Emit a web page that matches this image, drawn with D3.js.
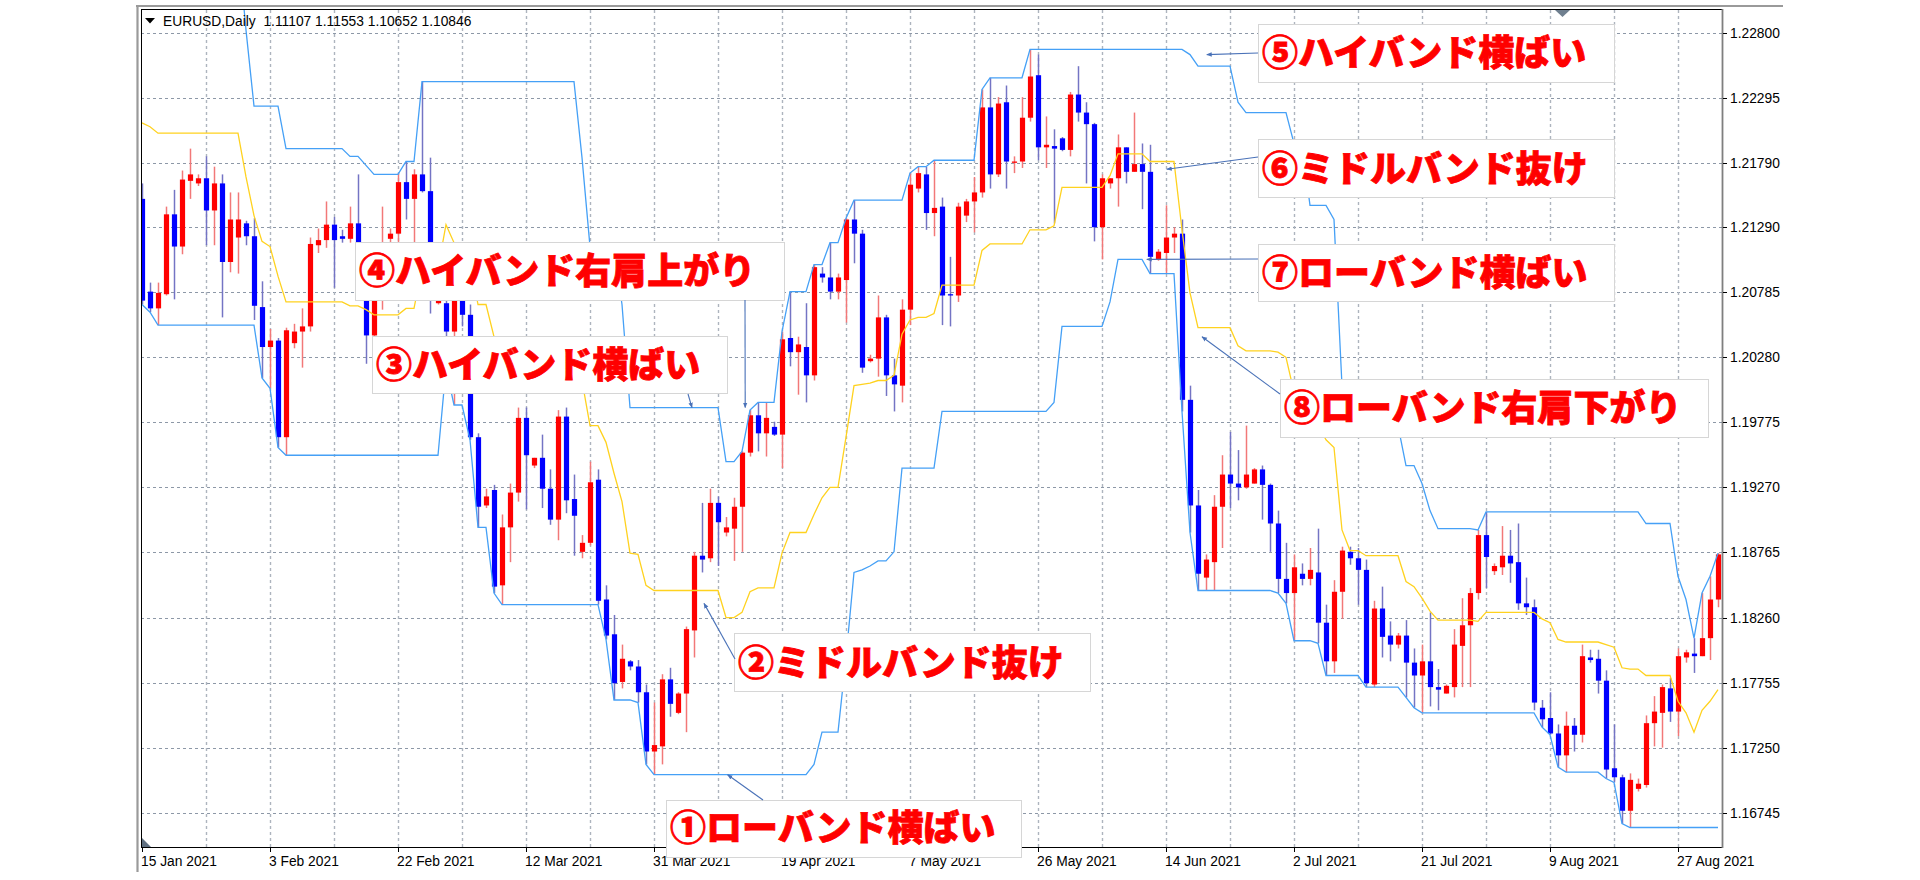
<!DOCTYPE html>
<html><head><meta charset="utf-8">
<script src="https://cdn.jsdelivr.net/npm/d3@7"></script>
<style>html,body{margin:0;padding:0;background:#fff;overflow:hidden}</style>
</head><body>
<svg id="c" width="1920" height="880"></svg>
<script>
// ---------------- DATA ----------------
const opens = [
1.2151,1.2079,1.2066,1.2077,1.2139,1.2114,1.2165,1.2163,1.2167,1.2142,
1.2163,1.2102,1.2121,1.2132,1.2122,1.2067,1.2036,1.2041,1.1966,1.2039,
1.2048,1.2052,1.2115,1.2119,1.2131,1.2122,1.2120,1.2132,1.2110,1.2045,
1.2073,1.2120,1.2124,1.2164,1.2151,1.2170,1.2157,1.2070,1.2070,1.2048,
1.2088,1.2061,1.1966,1.1913,1.1925,1.1851,1.1896,1.1923,1.1981,1.1944,
1.1950,1.1926,1.1902,1.1982,1.1918,1.1877,1.1884,1.1933,1.1840,1.1813,
1.1776,1.1792,1.1788,1.1768,1.1722,1.1726,1.1778,1.1752,1.1767,1.1816,
1.1874,1.1872,1.1915,1.1892,1.1895,1.1912,1.1954,1.1983,1.1969,1.1974,
1.1968,1.2043,1.2032,1.2036,1.2014,1.2093,1.2090,1.2079,1.2088,1.2135,
1.2124,1.2025,1.2027,1.2059,1.2014,1.2006,1.2065,1.2159,1.2170,1.2140,
1.2145,1.2077,1.2076,1.2138,1.2149,1.2156,1.2222,1.2170,1.2226,1.2179,
1.2180,1.2214,1.2247,1.2191,1.2192,1.2198,1.2189,1.2232,1.2218,1.2209,
1.2129,1.2163,1.2167,1.2191,1.2172,1.2178,1.2172,1.2104,1.2109,1.2121,
1.2124,1.1995,1.1913,1.1857,1.1869,1.1912,1.1937,1.1930,1.1927,1.1930,
1.1941,1.1929,1.1899,1.1856,1.1845,1.1860,1.1856,1.1861,1.1822,1.1792,
1.1846,1.1877,1.1872,1.1863,1.1774,1.1833,1.1812,1.1805,1.1812,1.1791,
1.1781,1.1792,1.1772,1.1767,1.1772,1.1804,1.1820,1.1845,1.1890,1.1862,
1.1865,1.1874,1.1869,1.1837,1.1834,1.1756,1.1748,1.1736,1.1719,1.1742,
1.1735,1.1795,1.1794,1.1777,1.1709,1.1702,1.1676,1.1693,1.1696,1.1744,
1.1752,1.1771,1.1753,1.1795,1.1798,1.1796,1.1810,1.1840];
const highs = [
1.2163,1.2086,1.2086,1.2145,1.2158,1.2173,1.2190,1.2170,1.2184,1.2176,
1.2170,1.2156,1.2156,1.2134,1.2136,1.2087,1.2050,1.2043,1.2051,1.2054,
1.2066,1.2121,1.2128,1.2149,1.2137,1.2127,1.2145,1.2170,1.2113,1.2084,
1.2145,1.2128,1.2171,1.2180,1.2174,1.2242,1.2183,1.2074,1.2114,1.2113,
1.2113,1.2069,1.1969,1.1926,1.1929,1.1906,1.1930,1.1989,1.1989,1.1950,
1.1968,1.1941,1.1987,1.1989,1.1937,1.1890,1.1947,1.1941,1.1851,1.1828,
1.1805,1.1793,1.1793,1.1774,1.1760,1.1782,1.1787,1.1768,1.1819,1.1877,
1.1915,1.1926,1.1920,1.1904,1.1919,1.1955,1.1987,1.1993,1.1993,1.1978,
1.2048,1.2079,1.2044,1.2070,1.2100,1.2098,1.2117,1.2093,1.2136,1.2150,
1.2127,1.2030,1.2076,1.2061,1.2027,1.2073,1.2171,1.2176,1.2176,1.2181,
1.2152,1.2106,1.2148,1.2151,1.2168,1.2236,1.2245,1.2230,1.2239,1.2184,
1.2230,1.2267,1.2263,1.2215,1.2205,1.2199,1.2234,1.2254,1.2226,1.2210,
1.2170,1.2167,1.2201,1.2191,1.2218,1.2194,1.2193,1.2112,1.2146,1.2129,
1.2135,1.2006,1.1925,1.1875,1.1921,1.1952,1.1970,1.1956,1.1975,1.1942,
1.1944,1.1930,1.1909,1.1884,1.1875,1.1868,1.1880,1.1895,1.1836,1.1855,
1.1881,1.1881,1.1880,1.1871,1.1839,1.1850,1.1823,1.1814,1.1824,1.1802,
1.1805,1.1830,1.1786,1.1774,1.1817,1.1841,1.1849,1.1894,1.1908,1.1868,
1.1897,1.1894,1.1899,1.1857,1.1840,1.1762,1.1768,1.1743,1.1753,1.1748,
1.1805,1.1801,1.1801,1.1785,1.1743,1.1704,1.1705,1.1701,1.1750,1.1765,
1.1774,1.1779,1.1802,1.1801,1.1810,1.1845,1.1858,1.1876];
const lows = [
1.2069,1.2063,1.2053,1.2076,1.2073,1.2108,1.2151,1.2161,1.2115,1.2115,
1.2059,1.2094,1.2093,1.2115,1.2057,1.2012,1.2004,1.1958,1.1952,1.2035,
1.2020,1.2048,1.2109,1.2113,1.2082,1.2117,1.2117,1.2102,1.2023,1.2038,
1.2065,1.2111,1.2115,1.2135,1.2115,1.2156,1.2062,1.2069,1.2038,1.1991,
1.2052,1.1964,1.1896,1.1911,1.1845,1.1836,1.1869,1.1916,1.1910,1.1942,
1.1911,1.1898,1.1886,1.1907,1.1874,1.1872,1.1882,1.1836,1.1809,1.1762,
1.1771,1.1785,1.1760,1.1712,1.1704,1.1712,1.1749,1.1751,1.1737,1.1795,
1.1861,1.1869,1.1866,1.1889,1.1870,1.1877,1.1951,1.1955,1.1951,1.1967,
1.1942,1.2021,1.1999,1.1993,1.2010,1.2086,1.2073,1.2073,1.2055,1.2101,
1.2016,1.2024,1.2013,1.1998,1.1986,1.1993,1.2053,1.2156,1.2127,1.2122,
1.2053,1.2052,1.2071,1.2133,1.2125,1.2152,1.2159,1.2168,1.2159,1.2171,
1.2175,1.2211,1.2181,1.2175,1.2132,1.2188,1.2184,1.2211,1.2163,1.2118,
1.2104,1.2159,1.2145,1.2163,1.2172,1.2143,1.2093,1.2103,1.2093,1.2109,
1.1986,1.1892,1.1847,1.1847,1.1847,1.1880,1.1911,1.1917,1.1926,1.1930,
1.1902,1.1877,1.1845,1.1837,1.1808,1.1851,1.1851,1.1806,1.1781,1.1783,
1.1825,1.1867,1.1836,1.1772,1.1772,1.1795,1.1792,1.1802,1.1764,1.1756,
1.1752,1.1757,1.1754,1.1767,1.1764,1.1772,1.1772,1.1840,1.1849,1.1859,
1.1859,1.1853,1.1832,1.1828,1.1754,1.1741,1.1735,1.1710,1.1706,1.1722,
1.1729,1.1791,1.1767,1.1701,1.1698,1.1666,1.1663,1.1691,1.1694,1.1726,
1.1725,1.1745,1.1734,1.1791,1.1783,1.1796,1.1793,1.1834];
const closes = [
1.2072,1.2066,1.2078,1.2139,1.2114,1.2166,1.2170,1.2167,1.2142,1.2163,
1.2102,1.2135,1.2135,1.2122,1.2068,1.2036,1.2041,1.1966,1.2049,1.2048,
1.2052,1.2116,1.2119,1.2131,1.2119,1.2120,1.2132,1.2110,1.2045,1.2079,
1.2115,1.2124,1.2164,1.2151,1.2170,1.2157,1.2080,1.2073,1.2048,1.2088,
1.2061,1.1966,1.1912,1.1920,1.1850,1.1896,1.1923,1.1981,1.1952,1.1950,
1.1926,1.1902,1.1982,1.1917,1.1905,1.1884,1.1931,1.1839,1.1812,1.1775,
1.1794,1.1788,1.1768,1.1722,1.1727,1.1778,1.1759,1.1767,1.1817,1.1874,
1.1871,1.1915,1.1900,1.1896,1.1912,1.1954,1.1983,1.1969,1.1981,1.1968,
1.2042,1.2032,1.2038,1.2014,1.2098,1.2090,1.2079,1.2090,1.2135,1.2124,
1.2020,1.2027,1.2059,1.2014,1.2007,1.2065,1.2162,1.2171,1.2140,1.2144,
1.2076,1.2076,1.2145,1.2149,1.2156,1.2222,1.2170,1.2225,1.2180,1.2180,
1.2214,1.2246,1.2191,1.2193,1.2190,1.2189,1.2232,1.2218,1.2209,1.2129,
1.2167,1.2167,1.2191,1.2172,1.2178,1.2172,1.2106,1.2110,1.2121,1.2124,
1.1995,1.1913,1.1860,1.1871,1.1912,1.1937,1.1930,1.1927,1.1937,1.1941,
1.1929,1.1899,1.1856,1.1845,1.1865,1.1856,1.1863,1.1822,1.1792,1.1846,
1.1878,1.1872,1.1863,1.1775,1.1833,1.1811,1.1805,1.1812,1.1791,1.1781,
1.1792,1.1772,1.1770,1.1773,1.1805,1.1820,1.1845,1.1890,1.1873,1.1866,
1.1874,1.1868,1.1837,1.1834,1.1760,1.1747,1.1736,1.1719,1.1742,1.1735,
1.1796,1.1793,1.1777,1.1708,1.1702,1.1676,1.1700,1.1697,1.1744,1.1753,
1.1772,1.1753,1.1796,1.1799,1.1796,1.1810,1.1840,1.1875];
const hiBand = [
1.2350,1.2350,1.2350,1.2350,1.2350,1.2350,1.2350,1.2350,1.2350,1.2350,
1.2350,1.2350,1.2350,1.2282,1.2223,1.2223,1.2223,1.2223,1.2190,1.2190,
1.2190,1.2190,1.2190,1.2190,1.2190,1.2190,1.2184,1.2184,1.2177,1.2170,
1.2170,1.2170,1.2170,1.2180,1.2180,1.2242,1.2242,1.2242,1.2242,1.2242,
1.2242,1.2242,1.2242,1.2242,1.2242,1.2242,1.2242,1.2242,1.2242,1.2242,
1.2242,1.2242,1.2242,1.2242,1.2242,1.2183,1.2114,1.2114,1.2114,1.2113,
1.2069,1.1989,1.1989,1.1989,1.1989,1.1989,1.1989,1.1989,1.1989,1.1989,
1.1989,1.1989,1.1989,1.1947,1.1947,1.1955,1.1987,1.1993,1.1993,1.1993,
1.2048,1.2079,1.2079,1.2079,1.2100,1.2100,1.2117,1.2117,1.2136,1.2150,
1.2150,1.2150,1.2150,1.2150,1.2150,1.2150,1.2171,1.2176,1.2176,1.2181,
1.2181,1.2181,1.2181,1.2181,1.2181,1.2236,1.2245,1.2245,1.2245,1.2245,
1.2245,1.2267,1.2267,1.2267,1.2267,1.2267,1.2267,1.2267,1.2267,1.2267,
1.2267,1.2267,1.2267,1.2267,1.2267,1.2267,1.2267,1.2267,1.2267,1.2267,
1.2267,1.2263,1.2254,1.2254,1.2254,1.2254,1.2254,1.2226,1.2218,1.2218,
1.2218,1.2218,1.2218,1.2218,1.2194,1.2193,1.2146,1.2146,1.2146,1.2135,
1.2006,1.1975,1.1975,1.1975,1.1975,1.1975,1.1975,1.1975,1.1944,1.1944,
1.1930,1.1909,1.1895,1.1895,1.1895,1.1895,1.1895,1.1894,1.1908,1.1908,
1.1908,1.1908,1.1908,1.1908,1.1908,1.1908,1.1908,1.1908,1.1908,1.1908,
1.1908,1.1908,1.1908,1.1908,1.1908,1.1908,1.1908,1.1908,1.1899,1.1899,
1.1899,1.1899,1.1858,1.1840,1.1810,1.1845,1.1858,1.1876];
const midBand = [
1.2210,1.2207,1.2202,1.2202,1.2202,1.2202,1.2202,1.2202,1.2202,1.2202,
1.2202,1.2202,1.2202,1.2168,1.2138,1.2118,1.2114,1.2091,1.2071,1.2071,
1.2071,1.2071,1.2071,1.2071,1.2071,1.2071,1.2068,1.2068,1.2065,1.2061,
1.2061,1.2061,1.2061,1.2066,1.2066,1.2097,1.2097,1.2097,1.2131,1.2117,
1.2117,1.2103,1.2069,1.2069,1.2044,1.2039,1.2039,1.2039,1.2039,1.2039,
1.2039,1.2039,1.2039,1.2039,1.2039,1.2010,1.1975,1.1975,1.1962,1.1938,
1.1916,1.1876,1.1875,1.1851,1.1847,1.1847,1.1847,1.1847,1.1847,1.1847,
1.1847,1.1847,1.1847,1.1826,1.1826,1.1830,1.1846,1.1849,1.1849,1.1849,
1.1876,1.1892,1.1892,1.1892,1.1906,1.1919,1.1927,1.1927,1.1966,1.2006,
1.2007,1.2008,1.2010,1.2010,1.2014,1.2046,1.2057,1.2059,1.2059,1.2062,
1.2084,1.2084,1.2084,1.2084,1.2084,1.2111,1.2116,1.2116,1.2116,1.2116,
1.2116,1.2127,1.2127,1.2127,1.2130,1.2160,1.2160,1.2160,1.2160,1.2160,
1.2160,1.2169,1.2186,1.2186,1.2186,1.2186,1.2180,1.2180,1.2180,1.2180,
1.2127,1.2078,1.2051,1.2051,1.2051,1.2051,1.2051,1.2037,1.2033,1.2033,
1.2033,1.2033,1.2032,1.2028,1.2001,1.2001,1.1977,1.1976,1.1964,1.1958,
1.1894,1.1878,1.1878,1.1874,1.1874,1.1874,1.1874,1.1874,1.1854,1.1850,
1.1841,1.1831,1.1824,1.1824,1.1824,1.1824,1.1824,1.1823,1.1830,1.1830,
1.1830,1.1830,1.1830,1.1830,1.1830,1.1825,1.1822,1.1809,1.1807,1.1807,
1.1807,1.1807,1.1807,1.1805,1.1803,1.1787,1.1786,1.1786,1.1781,1.1781,
1.1781,1.1781,1.1761,1.1752,1.1737,1.1754,1.1761,1.1770];
const loBand = [
1.2069,1.2063,1.2053,1.2053,1.2053,1.2053,1.2053,1.2053,1.2053,1.2053,
1.2053,1.2053,1.2053,1.2053,1.2053,1.2012,1.2004,1.1958,1.1952,1.1952,
1.1952,1.1952,1.1952,1.1952,1.1952,1.1952,1.1952,1.1952,1.1952,1.1952,
1.1952,1.1952,1.1952,1.1952,1.1952,1.1952,1.1952,1.1952,1.2020,1.1991,
1.1991,1.1964,1.1896,1.1896,1.1845,1.1836,1.1836,1.1836,1.1836,1.1836,
1.1836,1.1836,1.1836,1.1836,1.1836,1.1836,1.1836,1.1836,1.1809,1.1762,
1.1762,1.1762,1.1760,1.1712,1.1704,1.1704,1.1704,1.1704,1.1704,1.1704,
1.1704,1.1704,1.1704,1.1704,1.1704,1.1704,1.1704,1.1704,1.1704,1.1704,
1.1704,1.1704,1.1704,1.1704,1.1712,1.1737,1.1737,1.1737,1.1795,1.1861,
1.1863,1.1866,1.1870,1.1870,1.1877,1.1942,1.1942,1.1942,1.1942,1.1942,
1.1986,1.1986,1.1986,1.1986,1.1986,1.1986,1.1986,1.1986,1.1986,1.1986,
1.1986,1.1986,1.1986,1.1986,1.1993,1.2052,1.2052,1.2052,1.2052,1.2052,
1.2052,1.2071,1.2104,1.2104,1.2104,1.2104,1.2093,1.2093,1.2093,1.2093,
1.1986,1.1892,1.1847,1.1847,1.1847,1.1847,1.1847,1.1847,1.1847,1.1847,
1.1847,1.1847,1.1845,1.1837,1.1808,1.1808,1.1808,1.1806,1.1781,1.1781,
1.1781,1.1781,1.1781,1.1772,1.1772,1.1772,1.1772,1.1772,1.1764,1.1756,
1.1752,1.1752,1.1752,1.1752,1.1752,1.1752,1.1752,1.1752,1.1752,1.1752,
1.1752,1.1752,1.1752,1.1752,1.1752,1.1741,1.1735,1.1710,1.1706,1.1706,
1.1706,1.1706,1.1706,1.1701,1.1698,1.1666,1.1663,1.1663,1.1663,1.1663,
1.1663,1.1663,1.1663,1.1663,1.1663,1.1663,1.1663,1.1663];
const yTicks = [1.22800,1.22295,1.21790,1.21290,1.20785,1.20280,1.19775,1.19270,1.18765,1.18260,1.17755,1.17250,1.16745];
const xLabels = ["15 Jan 2021","3 Feb 2021","22 Feb 2021","12 Mar 2021","31 Mar 2021","19 Apr 2021","7 May 2021","26 May 2021","14 Jun 2021","2 Jul 2021","21 Jul 2021","9 Aug 2021","27 Aug 2021"];
const xLabelBars = [0,16,32,48,64,80,96,112,128,144,160,176,192];
const headerText = "EURUSD,Daily  1.11107 1.11553 1.10652 1.10846";
const noteTexts = ["①ローバンド横ばい","②ミドルバンド抜け","③ハイバンド横ばい","④ハイバンド右肩上がり","⑤ハイバンド横ばい","⑥ミドルバンド抜け","⑦ローバンド横ばい","⑧ローバンド右肩下がり"];
// arrow targets in data space: [bar index, price]
const noteTargets = [[73.2,1.1704],[70.25,1.1837],[68.75,1.1989],[75.4,1.1989],[133.1,1.2263],[128.1,1.2174],[125.6,1.2104],[132.5,1.2044]];

// ---------------- LAYOUT ----------------
const P = {l:141, r:1722, t:10, b:847};
const noteLayout = [ // box x,y,w,h ; text center y ; arrow start
  {x:666,y:800,w:355,h:57,ty:825,ax:763,ay:800},
  {x:734,y:633,w:356,h:58,ty:660,ax:735,ay:659},
  {x:372,y:336,w:355,h:57,ty:362,ax:688,ay:394},
  {x:355,y:242,w:429,h:58,ty:268,ax:745,ay:300},
  {x:1258,y:24,w:356,h:58,ty:50,ax:1258,ay:53},
  {x:1258,y:139,w:356,h:58,ty:166,ax:1258,ay:157},
  {x:1258,y:244,w:356,h:57,ty:270,ax:1258,ay:259},
  {x:1280,y:379,w:428,h:58,ty:405,ax:1280,ay:394}
];

const svg = d3.select("#c");
const x = d3.scaleLinear().domain([0,197]).range([142,1718]);
const y = d3.scaleLinear().domain([1.16745,1.22800]).range([812.7,32.7]);

svg.append("rect").attr("width",1920).attr("height",880).attr("fill","#fff");
const defs = svg.append("defs");
defs.append("clipPath").attr("id","clip").append("rect")
  .attr("x",P.l).attr("y",P.t).attr("width",P.r-P.l).attr("height",P.b-P.t);
defs.append("marker").attr("id","ah").attr("viewBox","0 0 10 10").attr("refX",9).attr("refY",5)
  .attr("markerWidth",5).attr("markerHeight",5).attr("orient","auto")
  .append("path").attr("d","M0,1 L10,5 L0,9 z").attr("fill","#4a72b8");

// outer window frame (gray)
svg.append("line").attr("x1",136).attr("x2",1783).attr("y1",6).attr("y2",6).attr("stroke","#9a9a9a").attr("stroke-width",2);
svg.append("line").attr("x1",137.5).attr("x2",137.5).attr("y1",5).attr("y2",872).attr("stroke","#9a9a9a").attr("stroke-width",2.2);

// grid
const grid = svg.append("g");
yTicks.forEach(v=>{
  grid.append("line").attr("x1",P.l).attr("x2",P.r).attr("y1",Math.round(y(v))+0.5).attr("y2",Math.round(y(v))+0.5)
    .attr("stroke","#8d98a7").attr("stroke-width",1).attr("stroke-dasharray","3,3");
});
const vGrid = d3.range(8,198,8);
vGrid.forEach(b=>{
  grid.append("line").attr("x1",x(b)+0.5).attr("x2",x(b)+0.5).attr("y1",P.t).attr("y2",P.b)
    .attr("stroke","#adb4be").attr("stroke-width",1.4).attr("stroke-dasharray","3,3");
});

// candles
const gC = svg.append("g").attr("clip-path","url(#clip)");
const idx = d3.range(opens.length);
idx.forEach(i=>{
  const up = closes[i] >= opens[i];
  const cx = x(i)+0.5;
  gC.append("line").attr("x1",cx).attr("x2",cx).attr("y1",y(highs[i])).attr("y2",y(lows[i]))
    .attr("stroke", up ? "#f27878" : "#7474c4").attr("stroke-width",1.5);
  const y1 = y(Math.max(opens[i],closes[i])), y2 = y(Math.min(opens[i],closes[i]));
  gC.append("rect").attr("x",cx-2.6).attr("width",5.2).attr("y",y1).attr("height",Math.max(1.2,y2-y1))
    .attr("fill", up ? "#ff0000" : "#0000ff");
});

// bands
const gB = svg.append("g").attr("clip-path","url(#clip)");
const lineGen = arr => d3.line().x((d,i)=>x(i)).y(d=>y(d))(arr);
gB.append("path").attr("d",lineGen(hiBand)).attr("fill","none").attr("stroke","#45a0f6").attr("stroke-width",1.3);
gB.append("path").attr("d",lineGen(loBand)).attr("fill","none").attr("stroke","#45a0f6").attr("stroke-width",1.3);
gB.append("path").attr("d",lineGen(midBand)).attr("fill","none").attr("stroke","#ffd21f").attr("stroke-width",1.3);

// plot frame
svg.append("line").attr("x1",P.l).attr("x2",P.r).attr("y1",9.5).attr("y2",9.5).attr("stroke","#000").attr("stroke-width",1);
svg.append("line").attr("x1",P.l+0.5).attr("x2",P.l+0.5).attr("y1",9).attr("y2",P.b).attr("stroke","#000").attr("stroke-width",1);
svg.append("line").attr("x1",P.l).attr("x2",P.r).attr("y1",P.b+0.5).attr("y2",P.b+0.5).attr("stroke","#000").attr("stroke-width",1.2);
svg.append("line").attr("x1",P.r+0.5).attr("x2",P.r+0.5).attr("y1",9).attr("y2",P.b+1).attr("stroke","#7f7f7f").attr("stroke-width",1.8);

// y axis labels
const axY = svg.append("g");
yTicks.forEach(v=>{
  const yy = Math.round(y(v))+0.5;
  axY.append("line").attr("x1",P.r+1).attr("x2",P.r+5).attr("y1",yy).attr("y2",yy).attr("stroke","#000");
  axY.append("text").attr("x",1730).attr("y",yy+4.8).text(d3.format(".5f")(v))
    .attr("font-family","'Liberation Sans',Arial,sans-serif").attr("font-size","13.8px").attr("fill","#000");
});
// x axis labels
const axX = svg.append("g");
xLabelBars.forEach((b,k)=>{
  const xx = x(b)+0.5;
  axX.append("line").attr("x1",xx).attr("x2",xx).attr("y1",P.b).attr("y2",P.b+5).attr("stroke","#000");
  axX.append("text").attr("x",x(b)-1).attr("y",866).text(xLabels[k])
    .attr("font-family","'Liberation Sans',Arial,sans-serif").attr("font-size","13.8px").attr("fill","#000");
});

// markers (triangles)
svg.append("path").attr("d","M1555,10 L1570,10 L1562.5,17 z").attr("fill","#6f7f8f");
svg.append("path").attr("d","M142,838 L142,847 L151,847 z").attr("fill","#5f6f80");

// header
svg.append("path").attr("d","M145,18 L155,18 L150,23.5 z").attr("fill","#000");
svg.append("text").attr("x",163).attr("y",26).text(headerText).attr("xml:space","preserve")
  .style("white-space","pre")
  .attr("font-family","'Liberation Sans',Arial,sans-serif").attr("font-size","13.8px").attr("fill","#000");

// annotations
const gN = svg.append("g");
noteTexts.forEach((t,k)=>{
  const L = noteLayout[k];
  gN.append("rect").attr("x",L.x+0.5).attr("y",L.y+0.5).attr("width",L.w).attr("height",L.h)
    .attr("fill","#fff").attr("stroke","#d6d6d6").attr("stroke-width",1);
  gN.append("text").attr("x",L.x+4).attr("y",L.ty).attr("dominant-baseline","central").text(t)
    .attr("font-family","'Noto Sans CJK JP','Noto Sans CJK SC',sans-serif").attr("font-weight",900)
    .attr("font-size","36px").attr("fill","#ff0000")
    .attr("stroke","#ff0000").attr("stroke-width",0.8).attr("paint-order","stroke");
});
noteTargets.forEach((tg,k)=>{
  const L = noteLayout[k];
  gN.append("line").attr("x1",L.ax).attr("y1",L.ay).attr("x2",x(tg[0])).attr("y2",y(tg[1]))
    .attr("stroke","#4a72b8").attr("stroke-width",1.1).attr("marker-end","url(#ah)");
});
</script>
</body></html>
